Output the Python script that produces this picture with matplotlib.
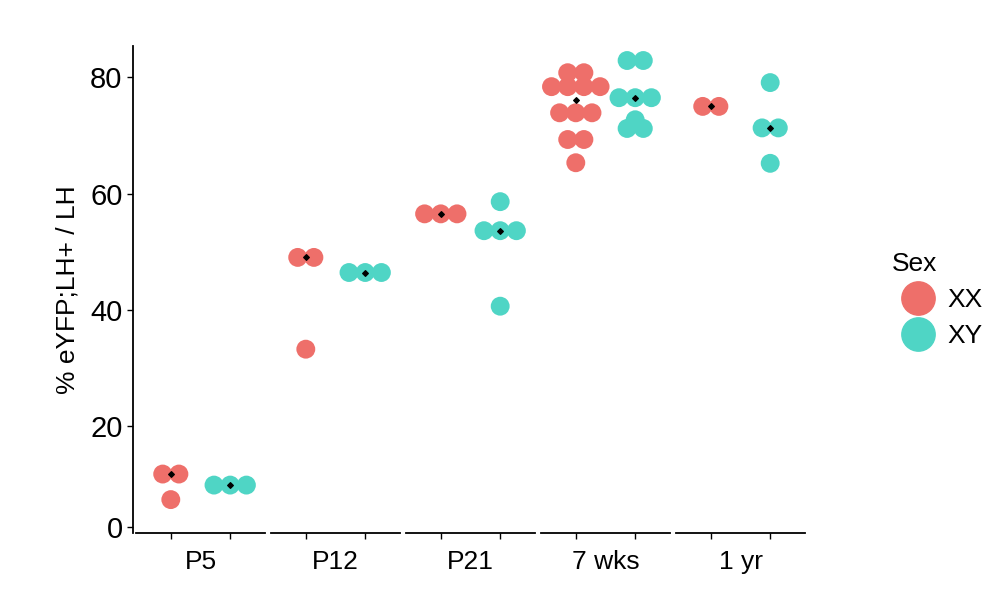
import numpy as np
import matplotlib.pyplot as plt
from matplotlib.lines import Line2D

plt.rcParams['font.family'] = 'Liberation Sans'

categories = ['P5', 'P12', 'P21', '7 wks', '1 yr']
xx_values = [
    [11.7, 11.7, 7.3],
    [49.0, 49.0, 33.2],
    [56.5, 56.5, 56.5],
    [80.8, 80.8, 78.4, 78.4, 78.4, 78.4, 73.9, 73.9, 73.9, 69.3, 69.3, 65.3],
    [75.0, 75.0],
]
xy_values = [
    [9.8, 9.8, 9.8],
    [46.4, 46.4, 46.4],
    [58.6, 53.6, 53.6, 53.6, 40.6],
    [82.9, 82.9, 76.5, 76.5, 76.5, 72.7, 71.2, 71.2],
    [79.1, 71.3, 71.3, 65.2],
]
col_xx = '#EE6F6A'
col_xy = '#4FD5C5'

fig = plt.figure(figsize=(10.05, 5.97), dpi=100)
ax = fig.add_axes([133/1005, 1-533/597, 675/1005, 487/597])

dodge = 0.22
dot_w = 0.12  # horizontal spacing between stacked dots (data units)


def swarm(center, vals, color):
    vals = np.array(vals)
    for v in np.unique(vals):
        n = int(np.sum(vals == v))
        offs = (np.arange(n) - (n - 1) / 2) * dot_w
        ax.scatter(center + offs, [v] * n, s=185, color=color, edgecolor='none', zorder=2)
    ax.scatter([center], [np.median(vals)], marker='D', s=8, color='black', zorder=3)


tick_pos = []
for i in range(len(categories)):
    x = i + 1
    swarm(x - dodge, xx_values[i], col_xx)
    swarm(x + dodge, xy_values[i], col_xy)
    tick_pos += [x - dodge, x + dodge]
    ax.plot([x - 0.48, x + 0.48], [1.55, 1.55], color='black', lw=1.3, clip_on=False, zorder=1)

ax.set_xlim(0.5, 5.5)
ax.set_ylim(1.55, 85.4)
ax.set_xticks(tick_pos)
ax.set_xticklabels([])
for i, c in enumerate(categories):
    ax.text(i + 1, -0.035, c, transform=ax.get_xaxis_transform(), ha='center', va='top', fontsize=19)
ax.set_yticks([2.6, 20, 40, 60, 80])
ax.set_yticklabels(['0', '20', '40', '60', '80'])
ax.tick_params(axis='y', labelsize=21, length=4, width=1)
ax.tick_params(axis='x', length=4, width=1)
for s in ['top', 'right', 'bottom']:
    ax.spines[s].set_visible(False)
ax.spines['left'].set_linewidth(1.3)
ax.set_ylabel('% eYFP;LH+ / LH', fontsize=19, labelpad=8)

handles = [Line2D([], [], marker='o', ls='', color=col_xx, markersize=24),
           Line2D([], [], marker='o', ls='', color=col_xy, markersize=24)]
leg = fig.legend(handles, ['XX', 'XY'], title='Sex', loc='center left',
                 bbox_to_anchor=(868/1005, 1-300/597), frameon=False, fontsize=19,
                 title_fontsize=19, handletextpad=0.1, labelspacing=0.45)
leg._legend_box.align = 'left'

fig.savefig('out.png', dpi=100)
